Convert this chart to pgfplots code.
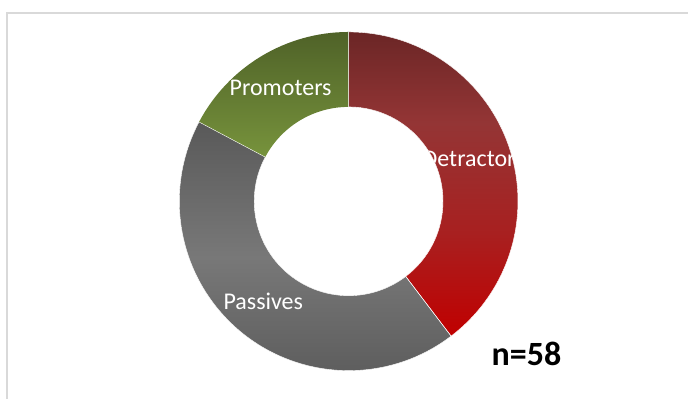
\documentclass[border=0pt]{standalone}
\usepackage{pgfplots}
\pgfplotsset{compat=1.18}
\usepackage{pgfplotstable}
\usepackage{fontspec}
\setmainfont{Carlito}

\definecolor{frame}{HTML}{D9D9D9}
\definecolor{dA}{HTML}{C00000}
\definecolor{dB}{HTML}{A82020}
\definecolor{dC}{HTML}{943535}
\definecolor{dD}{HTML}{6B2626}
\definecolor{pA}{HTML}{595959}
\definecolor{pB}{HTML}{787878}
\definecolor{gA}{HTML}{77933C}
\definecolor{gB}{HTML}{4F6228}

% bbox of the path maps to 25bp..75bp
\pgfdeclareverticalshading{detr}{100bp}{color(0bp)=(dA); color(25bp)=(dA);
  color(42bp)=(dB); color(60bp)=(dC); color(75bp)=(dD); color(100bp)=(dD)}
\pgfdeclareverticalshading{pass}{100bp}{color(0bp)=(pA); color(25bp)=(pA);
  color(50bp)=(pB); color(75bp)=(pA); color(100bp)=(pA)}
\pgfdeclareverticalshading{prom}{100bp}{color(0bp)=(gA); color(25bp)=(gA);
  color(75bp)=(gB); color(100bp)=(gB)}

\pgfplotstableread{
label value
Detractors 23
Passives 25
Promoters 10
}\donut

% ring path, angles clockwise from the top
\newcommand{\ring}[2]{({90-#1}:169.5pt) arc[start angle={90-#1}, end angle={90-#2}, radius=169.5pt]
  -- ({90-#2}:94.5pt) arc[start angle={90-#2}, end angle={90-#1}, radius=94.5pt] -- cycle}

\begin{document}
\begin{tikzpicture}
\pgfplotstablegetelem{0}{value}\of\donut \let\vD\pgfplotsretval
\pgfplotstablegetelem{1}{value}\of\donut \let\vP\pgfplotsretval
\pgfplotstablegetelem{2}{value}\of\donut \let\vR\pgfplotsretval
\pgfmathsetmacro{\tot}{\vD+\vP+\vR}
\pgfmathsetmacro{\aD}{\vD/\tot*360}
\pgfmathsetmacro{\aP}{(\vD+\vP)/\tot*360}
\pgfmathsetmacro{\mD}{\aD/2}
\pgfmathsetmacro{\mP}{(\aD+\aP)/2}
\pgfmathsetmacro{\mR}{(\aP+360)/2}
\begin{axis}[
  width=689pt, height=399pt, scale only axis,
  xmin=0, xmax=689, ymin=0, ymax=399, y dir=reverse,
  hide axis, clip=false]
  \path (axis cs:0,0) rectangle (axis cs:689,399);
  \draw[frame, line width=1.5pt] (axis cs:7,399) -- (axis cs:7,13) -- (axis cs:689,13);
  \begin{scope}[shift={(axis cs:349,201.5)}, font=\fontsize{24}{28}\selectfont]
    \shade[shading=detr] \ring{0}{\aD};
    \shade[shading=pass] \ring{\aD}{\aP};
    \shade[shading=prom] \ring{\aP}{360};
    \draw[white, line width=0.4pt] \ring{0}{\aD};
    \draw[white, line width=0.4pt] \ring{\aD}{\aP};
    \begin{scope}
      \clip \ring{0}{\aD};
      \node[white] at ({90-\mD}:132pt) {Detractors};
    \end{scope}
    \begin{scope}
      \clip \ring{\aD}{\aP};
      \node[white] at ({90-\mP}:132pt) {Passives};
    \end{scope}
    \begin{scope}
      \clip \ring{\aP}{360};
      \node[white] at ({90-\mR}:132pt) {Promoters};
    \end{scope}
  \end{scope}
  \node[anchor=base, font=\fontsize{34}{40}\selectfont\bfseries] at (axis cs:527,366) {n=58};
\end{axis}
\end{tikzpicture}
\end{document}
